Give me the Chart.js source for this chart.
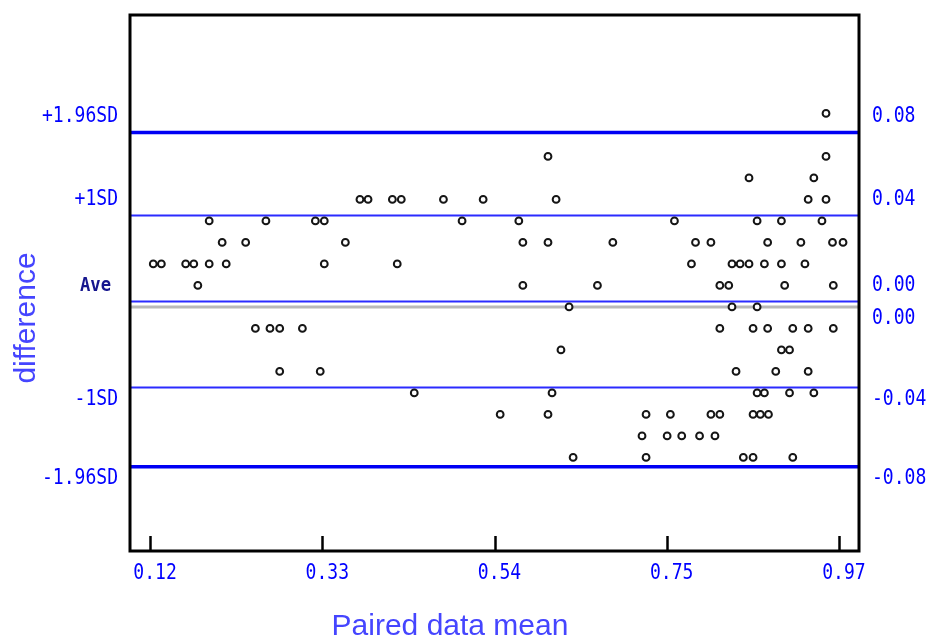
<!DOCTYPE html>
<html>
<head>
<meta charset="utf-8">
<script src="https://cdn.jsdelivr.net/npm/chart.js@4/dist/chart.umd.min.js"></script>
<style>
html, body { margin: 0; padding: 0; background: #ffffff; }
canvas { display: block; }
</style>
</head>
<body>
<canvas id="chart" width="929" height="639"></canvas>
<script>
// ---- data (x = paired data mean, y = difference) ----
const pairedMean = [
  0.954,
  0.611, 0.954,
  0.859, 0.939,
  0.379, 0.389, 0.419, 0.430, 0.482, 0.531, 0.621, 0.932, 0.954,
  0.193, 0.263, 0.324, 0.335, 0.505, 0.575, 0.767, 0.869, 0.899, 0.949,
  0.209, 0.238, 0.361, 0.580, 0.611, 0.691, 0.793, 0.812, 0.882, 0.923, 0.962, 0.975,
  0.124, 0.134, 0.164, 0.174, 0.193, 0.214, 0.335, 0.425, 0.788, 0.838, 0.848, 0.859, 0.878, 0.899, 0.928,
  0.179, 0.580, 0.672, 0.823, 0.834, 0.903, 0.963,
  0.637, 0.838, 0.869,
  0.250, 0.268, 0.280, 0.308, 0.823, 0.864, 0.882, 0.913, 0.932, 0.963,
  0.627, 0.899, 0.909,
  0.280, 0.330, 0.843, 0.892, 0.932,
  0.446, 0.616, 0.869, 0.878, 0.909, 0.939,
  0.552, 0.611, 0.732, 0.762, 0.812, 0.823, 0.864, 0.873, 0.883,
  0.727, 0.758, 0.776, 0.798, 0.817,
  0.642, 0.732, 0.852, 0.864, 0.913
];
const difference = [
  0.09,
  0.07, 0.07,
  0.06, 0.06,
  0.05, 0.05, 0.05, 0.05, 0.05, 0.05, 0.05, 0.05, 0.05,
  0.04, 0.04, 0.04, 0.04, 0.04, 0.04, 0.04, 0.04, 0.04, 0.04,
  0.03, 0.03, 0.03, 0.03, 0.03, 0.03, 0.03, 0.03, 0.03, 0.03, 0.03, 0.03,
  0.02, 0.02, 0.02, 0.02, 0.02, 0.02, 0.02, 0.02, 0.02, 0.02, 0.02, 0.02, 0.02, 0.02, 0.02,
  0.01, 0.01, 0.01, 0.01, 0.01, 0.01, 0.01,
  0.00, 0.00, 0.00,
  -0.01, -0.01, -0.01, -0.01, -0.01, -0.01, -0.01, -0.01, -0.01, -0.01,
  -0.02, -0.02, -0.02,
  -0.03, -0.03, -0.03, -0.03, -0.03,
  -0.04, -0.04, -0.04, -0.04, -0.04, -0.04,
  -0.05, -0.05, -0.05, -0.05, -0.05, -0.05, -0.05, -0.05, -0.05,
  -0.06, -0.06, -0.06, -0.06, -0.06,
  -0.07, -0.07, -0.07, -0.07, -0.07
];
// reference lines: +1.96SD, +1SD, mean, zero, -1SD, -1.96SD
const limitValues = [0.0811, 0.0425, 0.0025, 0.0, -0.0375, -0.0743];
const limitNames = ['+1.96SD', '+1SD', 'Ave', '', '-1SD', '-1.96SD'];
const limitValueLabels = ['0.08', '0.04', '0.00', '0.00', '-0.04', '-0.08'];
const xTickValues = [0.12, 0.3325, 0.545, 0.7575, 0.97];
const xTickLabels = ['0.12', '0.33', '0.54', '0.75', '0.97'];
const xRange = [0.0953, 0.9947];
const yRange = [-0.1135, 0.1358];
const xTitle = 'Paired data mean';
const yTitle = 'difference';

// ---- styles ----
const lineStyles = [
  { color: '#0000f4', width: 3.5 },
  { color: '#2b2bff', width: 2 },
  { color: '#2b2bff', width: 2 },
  { color: '#b8b8b8', width: 3 },
  { color: '#2b2bff', width: 2 },
  { color: '#0000f4', width: 3.5 }
];
const labelBlue = '#0000ff';
const monoFont = '"DejaVu Sans Mono", "Liberation Mono", monospace';

const points = pairedMean.map((m, i) => ({ x: m, y: difference[i] }));

const datasets = [{
  type: 'scatter',
  label: 'pairs',
  data: points,
  pointRadius: 3.4,
  pointBorderWidth: 2,
  pointBorderColor: '#151515',
  pointBackgroundColor: '#ffffff',
  pointHoverRadius: 3.4
}];
limitValues.forEach((v, i) => {
  datasets.push({
    type: 'line',
    label: limitNames[i] || 'zero',
    data: [{ x: xRange[0], y: v }, { x: xRange[1], y: v }],
    borderColor: lineStyles[i].color,
    borderWidth: lineStyles[i].width,
    pointRadius: 0,
    fill: false,
    clip: 0
  });
});

// draw mono text compressed horizontally (narrow, tall glyphs like the original)
function monoText(ctx, text, x, y, align, size, color, weight) {
  const sx = 0.86;
  ctx.save();
  ctx.font = (weight || 'normal') + ' ' + size + 'px ' + monoFont;
  ctx.fillStyle = color;
  ctx.textBaseline = 'middle';
  ctx.textAlign = align;
  ctx.translate(x, y);
  ctx.scale(sx, 1);
  ctx.fillText(text, 0, 0);
  ctx.restore();
}

const decorPlugin = {
  id: 'decor',
  afterDatasetsDraw(chart) {
    const { ctx, chartArea: a, scales: { x, y } } = chart;
    ctx.save();
    // frame
    ctx.strokeStyle = '#000000';
    ctx.lineWidth = 3;
    ctx.strokeRect(a.left, a.top, a.right - a.left, a.bottom - a.top);
    // inward x ticks
    ctx.lineWidth = 2.5;
    xTickValues.forEach(v => {
      const px = Math.round(x.getPixelForValue(v)) + 0.5;
      ctx.beginPath();
      ctx.moveTo(px, a.bottom);
      ctx.lineTo(px, a.bottom - 15);
      ctx.stroke();
    });
    // x tick labels
    xTickValues.forEach((v, i) => {
      monoText(ctx, xTickLabels[i], x.getPixelForValue(v) + 5, a.bottom + 23, 'center', 21, labelBlue);
    });
    // left names and right value labels of the reference lines
    limitValues.forEach((v, i) => {
      const py = y.getPixelForValue(v);
      const ly = i <= 2 ? py - 16 : py + 12;
      if (limitNames[i]) {
        if (limitNames[i] === 'Ave') {
          monoText(ctx, limitNames[i], a.left - 19, ly, 'right', 20, '#16168e', 'bold');
        } else {
          monoText(ctx, limitNames[i], a.left - 12, ly, 'right', 21, labelBlue);
        }
      }
      monoText(ctx, limitValueLabels[i], a.right + 13, ly, 'left', 21, labelBlue);
    });
    // axis titles
    ctx.fillStyle = '#4545ff';
    ctx.font = '30px "Liberation Sans", Arial, sans-serif';
    ctx.textAlign = 'center';
    ctx.textBaseline = 'alphabetic';
    ctx.fillText(xTitle, 450, 635);
    ctx.save();
    ctx.translate(35, 318);
    ctx.rotate(-Math.PI / 2);
    ctx.fillText(yTitle, 0, 0);
    ctx.restore();
    ctx.restore();
  }
};

new Chart(document.getElementById('chart'), {
  data: { datasets },
  options: {
    responsive: false,
    animation: false,
    events: [],
    layout: { padding: { left: 130, right: 70, top: 15, bottom: 88 } },
    plugins: { legend: { display: false }, tooltip: { enabled: false } },
    scales: {
      x: { type: 'linear', min: xRange[0], max: xRange[1], display: false },
      y: { type: 'linear', min: yRange[0], max: yRange[1], display: false }
    }
  },
  plugins: [decorPlugin]
});
</script>
</body>
</html>
